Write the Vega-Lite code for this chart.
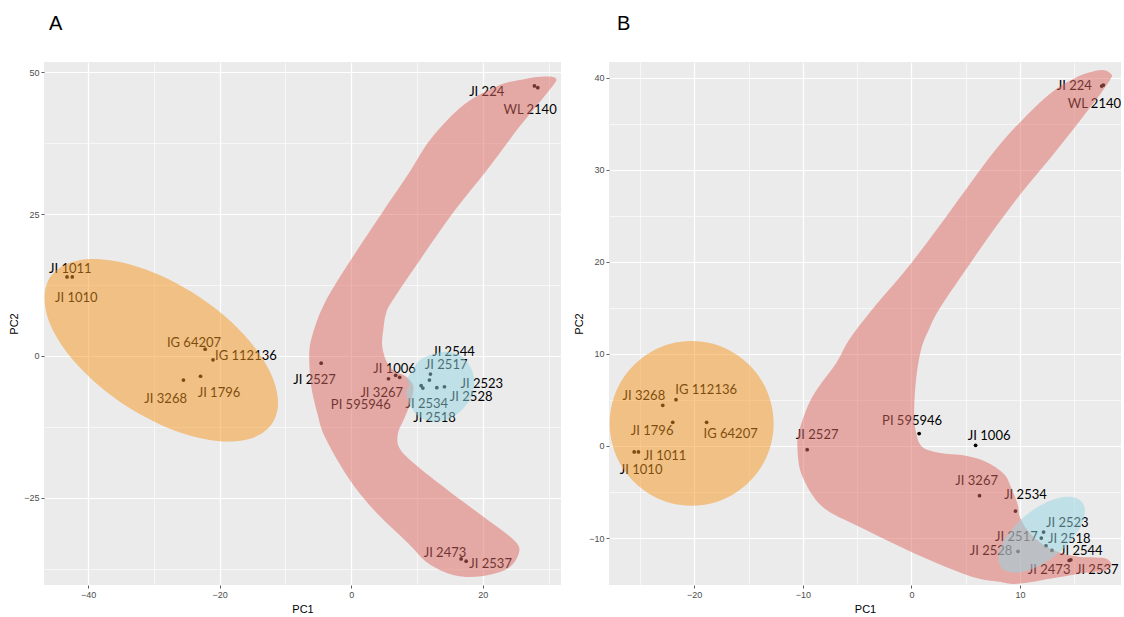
{
  "$schema": "https://vega.github.io/schema/vega-lite/v6.json",
  "padding": {"left": 8, "top": 14, "right": 0, "bottom": 0},
  "spacing": 12,
  "background": "white",
  "datasets": {
    "ptsA": [
      {"name": "JI 1011", "x": -43.2, "y": 13.9, "lx": -42.7, "ly": 15.3},
      {"name": "JI 1010", "x": -42.4, "y": 13.9, "lx": -41.8, "ly": 10.2},
      {"name": "IG 64207", "x": -22.2, "y": 1.18, "lx": -23.9, "ly": 2.3},
      {"name": "IG 112136", "x": -21.0, "y": -0.7, "lx": -16.0, "ly": 0.0},
      {"name": "JI 3268", "x": -25.5, "y": -4.27, "lx": -28.2, "ly": -7.6},
      {"name": "JI 1796", "x": -22.9, "y": -3.6, "lx": -20.1, "ly": -6.6},
      {"name": "JI 2527", "x": -4.56, "y": -1.29, "lx": -5.57, "ly": -4.2},
      {"name": "JI 3267", "x": 5.67, "y": -4.04, "lx": 4.64, "ly": -6.56},
      {"name": "JI 1006", "x": 6.76, "y": -3.43, "lx": 6.59, "ly": -2.34},
      {"name": "PI 595946", "x": 7.37, "y": -3.78, "lx": 1.47, "ly": -8.6},
      {"name": "JI 2544", "x": 12.05, "y": -3.22, "lx": 15.55, "ly": 0.76},
      {"name": "JI 2517", "x": 11.9, "y": -4.27, "lx": 14.44, "ly": -1.63},
      {"name": "JI 2523", "x": 14.18, "y": -5.45, "lx": 19.86, "ly": -4.97},
      {"name": "JI 2528", "x": 13.02, "y": -5.62, "lx": 18.24, "ly": -7.33},
      {"name": "JI 2534", "x": 10.64, "y": -5.27, "lx": 11.5, "ly": -8.49},
      {"name": "JI 2518", "x": 10.9, "y": -5.68, "lx": 12.66, "ly": -10.95},
      {"name": "JI 2473", "x": 16.72, "y": -35.8, "lx": 14.26, "ly": -34.74},
      {"name": "JI 2537", "x": 17.48, "y": -36.2, "lx": 21.2, "ly": -36.7},
      {"name": "JI 224", "x": 27.86, "y": 47.57, "lx": 20.6, "ly": 46.45},
      {"name": "WL 2140", "x": 28.37, "y": 47.28, "lx": 27.2, "ly": 43.3}
    ],
    "ptsB": [
      {"name": "JI 3268", "x": -22.9, "y": 4.41, "lx": -24.64, "ly": 5.39},
      {"name": "IG 112136", "x": -21.68, "y": 5.03, "lx": -18.9, "ly": 6.04},
      {"name": "JI 1796", "x": -21.98, "y": 2.57, "lx": -23.88, "ly": 1.59},
      {"name": "IG 64207", "x": -18.86, "y": 2.57, "lx": -16.65, "ly": 1.3},
      {"name": "JI 1011", "x": -25.14, "y": -0.65, "lx": -22.69, "ly": -1.05},
      {"name": "JI 1010", "x": -25.53, "y": -0.65, "lx": -24.89, "ly": -2.65},
      {"name": "JI 2527", "x": -9.6, "y": -0.4, "lx": -8.68, "ly": 1.23},
      {"name": "PI 595946", "x": 0.71, "y": 1.34, "lx": 0.06, "ly": 2.67},
      {"name": "JI 1006", "x": 5.91, "y": 0.07, "lx": 7.16, "ly": 1.12},
      {"name": "JI 3267", "x": 6.27, "y": -5.4, "lx": 6.01, "ly": -3.85},
      {"name": "JI 2534", "x": 9.58, "y": -7.07, "lx": 10.5, "ly": -5.37},
      {"name": "JI 2523", "x": 12.17, "y": -9.35, "lx": 14.35, "ly": -8.37},
      {"name": "JI 2517", "x": 11.96, "y": -10.0, "lx": 9.67, "ly": -9.89},
      {"name": "JI 2518", "x": 12.39, "y": -10.84, "lx": 14.54, "ly": -10.08},
      {"name": "JI 2544", "x": 12.94, "y": -11.35, "lx": 15.64, "ly": -11.38},
      {"name": "JI 2528", "x": 9.82, "y": -11.45, "lx": 7.33, "ly": -11.45},
      {"name": "JI 2473", "x": 14.53, "y": -12.43, "lx": 12.68, "ly": -13.45},
      {"name": "JI 2537", "x": 14.68, "y": -12.36, "lx": 17.11, "ly": -13.45},
      {"name": "JI 224", "x": 17.52, "y": 39.09, "lx": 15.0, "ly": 39.09},
      {"name": "WL 2140", "x": 17.68, "y": 39.2, "lx": 16.85, "ly": 37.1}
    ],
    "hullA": [
      {"g": "o", "i": 0, "x": -11.12, "y": -8.26},
      {"g": "o", "i": 1, "x": -11.73, "y": -11.36},
      {"g": "o", "i": 2, "x": -13.5, "y": -13.6},
      {"g": "o", "i": 3, "x": -16.33, "y": -14.87},
      {"g": "o", "i": 4, "x": -20.01, "y": -15.05},
      {"g": "o", "i": 5, "x": -24.3, "y": -14.13},
      {"g": "o", "i": 6, "x": -28.9, "y": -12.19},
      {"g": "o", "i": 7, "x": -33.5, "y": -9.35},
      {"g": "o", "i": 8, "x": -37.79, "y": -5.81},
      {"g": "o", "i": 9, "x": -41.47, "y": -1.81},
      {"g": "o", "i": 10, "x": -44.3, "y": 2.38},
      {"g": "o", "i": 11, "x": -46.07, "y": 6.48},
      {"g": "o", "i": 12, "x": -46.6, "y": 10.2},
      {"g": "o", "i": 13, "x": -46.07, "y": 13.3},
      {"g": "o", "i": 14, "x": -44.3, "y": 15.54},
      {"g": "o", "i": 15, "x": -41.47, "y": 16.81},
      {"g": "o", "i": 16, "x": -37.79, "y": 16.99},
      {"g": "o", "i": 17, "x": -33.5, "y": 16.07},
      {"g": "o", "i": 18, "x": -28.9, "y": 14.13},
      {"g": "o", "i": 19, "x": -24.3, "y": 11.29},
      {"g": "o", "i": 20, "x": -20.01, "y": 7.75},
      {"g": "o", "i": 21, "x": -16.33, "y": 3.75},
      {"g": "o", "i": 22, "x": -13.5, "y": -0.44},
      {"g": "o", "i": 23, "x": -11.73, "y": -4.54},
      {"g": "r", "i": 0, "x": 31.16, "y": 48.86},
      {"g": "r", "i": 1, "x": 28.88, "y": 49.21},
      {"g": "r", "i": 2, "x": 25.84, "y": 48.68},
      {"g": "r", "i": 3, "x": 22.34, "y": 47.63},
      {"g": "r", "i": 4, "x": 17.17, "y": 44.29},
      {"g": "r", "i": 5, "x": 12.16, "y": 38.31},
      {"g": "r", "i": 6, "x": 8.66, "y": 31.99},
      {"g": "r", "i": 7, "x": 4.56, "y": 24.96},
      {"g": "r", "i": 8, "x": -0.46, "y": 16.17},
      {"g": "r", "i": 9, "x": -4.1, "y": 9.14},
      {"g": "r", "i": 10, "x": -5.93, "y": 3.51},
      {"g": "r", "i": 11, "x": -6.38, "y": 0.0},
      {"g": "r", "i": 12, "x": -6.08, "y": -5.27},
      {"g": "r", "i": 13, "x": -5.17, "y": -10.02},
      {"g": "r", "i": 14, "x": -3.95, "y": -14.41},
      {"g": "r", "i": 15, "x": -0.46, "y": -21.44},
      {"g": "r", "i": 16, "x": 3.5, "y": -27.24},
      {"g": "r", "i": 17, "x": 8.66, "y": -33.04},
      {"g": "r", "i": 18, "x": 11.7, "y": -36.56},
      {"g": "r", "i": 19, "x": 15.65, "y": -38.66},
      {"g": "r", "i": 20, "x": 19.76, "y": -38.84},
      {"g": "r", "i": 21, "x": 23.86, "y": -37.43},
      {"g": "r", "i": 22, "x": 25.53, "y": -34.62},
      {"g": "r", "i": 23, "x": 24.77, "y": -32.51},
      {"g": "r", "i": 24, "x": 20.82, "y": -29.0},
      {"g": "r", "i": 25, "x": 14.74, "y": -23.73},
      {"g": "r", "i": 26, "x": 9.57, "y": -18.98},
      {"g": "r", "i": 27, "x": 7.29, "y": -16.17},
      {"g": "r", "i": 28, "x": 7.14, "y": -13.53},
      {"g": "r", "i": 29, "x": 8.05, "y": -11.07},
      {"g": "r", "i": 30, "x": 9.12, "y": -7.91},
      {"g": "r", "i": 31, "x": 9.42, "y": -5.27},
      {"g": "r", "i": 32, "x": 8.36, "y": -3.69},
      {"g": "r", "i": 33, "x": 6.53, "y": -2.64},
      {"g": "r", "i": 34, "x": 5.32, "y": -0.88},
      {"g": "r", "i": 35, "x": 4.71, "y": 1.76},
      {"g": "r", "i": 36, "x": 4.86, "y": 4.39},
      {"g": "r", "i": 37, "x": 5.32, "y": 7.56},
      {"g": "r", "i": 38, "x": 6.53, "y": 10.19},
      {"g": "r", "i": 39, "x": 10.64, "y": 17.22},
      {"g": "r", "i": 40, "x": 15.65, "y": 25.48},
      {"g": "r", "i": 41, "x": 20.82, "y": 33.04},
      {"g": "r", "i": 42, "x": 25.84, "y": 40.77},
      {"g": "r", "i": 43, "x": 29.94, "y": 46.57},
      {"g": "b", "i": 0, "x": 9.12, "y": -2.99},
      {"g": "b", "i": 1, "x": 10.33, "y": -0.88},
      {"g": "b", "i": 2, "x": 12.16, "y": 0.18},
      {"g": "b", "i": 3, "x": 14.44, "y": 0.7},
      {"g": "b", "i": 4, "x": 16.41, "y": 0.18},
      {"g": "b", "i": 5, "x": 17.93, "y": -1.58},
      {"g": "b", "i": 6, "x": 18.69, "y": -4.04},
      {"g": "b", "i": 7, "x": 18.39, "y": -6.85},
      {"g": "b", "i": 8, "x": 17.02, "y": -9.31},
      {"g": "b", "i": 9, "x": 14.89, "y": -11.07},
      {"g": "b", "i": 10, "x": 12.46, "y": -11.6},
      {"g": "b", "i": 11, "x": 10.33, "y": -10.72},
      {"g": "b", "i": 12, "x": 8.97, "y": -8.79},
      {"g": "b", "i": 13, "x": 8.36, "y": -6.5},
      {"g": "b", "i": 14, "x": 8.81, "y": -5.27},
      {"g": "b", "i": 15, "x": 8.51, "y": -4.04}
    ],
    "hullB": [
      {"g": "o", "i": 0, "x": -12.69, "y": 2.45},
      {"g": "o", "i": 1, "x": -12.95, "y": 4.76},
      {"g": "o", "i": 2, "x": -13.7, "y": 6.92},
      {"g": "o", "i": 3, "x": -14.9, "y": 8.77},
      {"g": "o", "i": 4, "x": -16.47, "y": 10.19},
      {"g": "o", "i": 5, "x": -18.29, "y": 11.09},
      {"g": "o", "i": 6, "x": -20.24, "y": 11.39},
      {"g": "o", "i": 7, "x": -22.19, "y": 11.09},
      {"g": "o", "i": 8, "x": -24.02, "y": 10.19},
      {"g": "o", "i": 9, "x": -25.58, "y": 8.77},
      {"g": "o", "i": 10, "x": -26.78, "y": 6.92},
      {"g": "o", "i": 11, "x": -27.53, "y": 4.76},
      {"g": "o", "i": 12, "x": -27.79, "y": 2.45},
      {"g": "o", "i": 13, "x": -27.53, "y": 0.14},
      {"g": "o", "i": 14, "x": -26.78, "y": -2.02},
      {"g": "o", "i": 15, "x": -25.58, "y": -3.87},
      {"g": "o", "i": 16, "x": -24.02, "y": -5.29},
      {"g": "o", "i": 17, "x": -22.19, "y": -6.19},
      {"g": "o", "i": 18, "x": -20.24, "y": -6.49},
      {"g": "o", "i": 19, "x": -18.29, "y": -6.19},
      {"g": "o", "i": 20, "x": -16.47, "y": -5.29},
      {"g": "o", "i": 21, "x": -14.9, "y": -3.87},
      {"g": "o", "i": 22, "x": -13.7, "y": -2.02},
      {"g": "o", "i": 23, "x": -12.95, "y": 0.14},
      {"g": "r", "i": 0, "x": 18.41, "y": 40.36},
      {"g": "r", "i": 1, "x": 17.5, "y": 40.83},
      {"g": "r", "i": 2, "x": 15.39, "y": 40.14},
      {"g": "r", "i": 3, "x": 12.91, "y": 38.4},
      {"g": "r", "i": 4, "x": 10.52, "y": 35.79},
      {"g": "r", "i": 5, "x": 7.77, "y": 32.21},
      {"g": "r", "i": 6, "x": 5.02, "y": 27.86},
      {"g": "r", "i": 7, "x": 2.54, "y": 23.84},
      {"g": "r", "i": 8, "x": -0.49, "y": 19.16},
      {"g": "r", "i": 9, "x": -3.61, "y": 14.82},
      {"g": "r", "i": 10, "x": -5.72, "y": 11.55},
      {"g": "r", "i": 11, "x": -6.91, "y": 9.05},
      {"g": "r", "i": 12, "x": -9.11, "y": 5.36},
      {"g": "r", "i": 13, "x": -10.3, "y": 1.77},
      {"g": "r", "i": 14, "x": -10.49, "y": -0.4},
      {"g": "r", "i": 15, "x": -10.03, "y": -3.34},
      {"g": "r", "i": 16, "x": -8.19, "y": -6.6},
      {"g": "r", "i": 17, "x": -4.8, "y": -8.77},
      {"g": "r", "i": 18, "x": 0.98, "y": -12.03},
      {"g": "r", "i": 19, "x": 5.57, "y": -14.21},
      {"g": "r", "i": 20, "x": 8.04, "y": -14.75},
      {"g": "r", "i": 21, "x": 9.88, "y": -14.97},
      {"g": "r", "i": 22, "x": 13.27, "y": -14.32},
      {"g": "r", "i": 23, "x": 16.03, "y": -13.77},
      {"g": "r", "i": 24, "x": 17.86, "y": -13.55},
      {"g": "r", "i": 25, "x": 18.41, "y": -12.9},
      {"g": "r", "i": 26, "x": 17.95, "y": -12.25},
      {"g": "r", "i": 27, "x": 16.95, "y": -12.11},
      {"g": "r", "i": 28, "x": 15.39, "y": -12.03},
      {"g": "r", "i": 29, "x": 13.73, "y": -11.6},
      {"g": "r", "i": 30, "x": 12.17, "y": -10.73},
      {"g": "r", "i": 31, "x": 10.8, "y": -9.32},
      {"g": "r", "i": 32, "x": 9.97, "y": -7.68},
      {"g": "r", "i": 33, "x": 9.79, "y": -6.38},
      {"g": "r", "i": 34, "x": 9.15, "y": -4.42},
      {"g": "r", "i": 35, "x": 8.5, "y": -3.01},
      {"g": "r", "i": 36, "x": 6.85, "y": -1.71},
      {"g": "r", "i": 37, "x": 5.02, "y": -1.05},
      {"g": "r", "i": 38, "x": 2.54, "y": -0.73},
      {"g": "r", "i": 39, "x": 0.98, "y": -0.08},
      {"g": "r", "i": 40, "x": 0.43, "y": 1.45},
      {"g": "r", "i": 41, "x": 0.25, "y": 3.62},
      {"g": "r", "i": 42, "x": 0.43, "y": 7.21},
      {"g": "r", "i": 43, "x": 0.89, "y": 10.47},
      {"g": "r", "i": 44, "x": 1.61, "y": 12.64},
      {"g": "r", "i": 45, "x": 2.54, "y": 14.82},
      {"g": "r", "i": 46, "x": 5.02, "y": 19.16},
      {"g": "r", "i": 47, "x": 7.4, "y": 23.18},
      {"g": "r", "i": 48, "x": 10.16, "y": 27.53},
      {"g": "r", "i": 49, "x": 12.91, "y": 31.45},
      {"g": "r", "i": 50, "x": 15.39, "y": 35.14},
      {"g": "r", "i": 51, "x": 17.5, "y": 38.4},
      {"g": "r", "i": 52, "x": 18.32, "y": 39.82},
      {"g": "b", "i": 0, "x": 15.7, "y": -6.09},
      {"g": "b", "i": 1, "x": 15.95, "y": -6.76},
      {"g": "b", "i": 2, "x": 15.92, "y": -7.62},
      {"g": "b", "i": 3, "x": 15.63, "y": -8.62},
      {"g": "b", "i": 4, "x": 15.09, "y": -9.69},
      {"g": "b", "i": 5, "x": 14.34, "y": -10.76},
      {"g": "b", "i": 6, "x": 13.43, "y": -11.75},
      {"g": "b", "i": 7, "x": 12.42, "y": -12.6},
      {"g": "b", "i": 8, "x": 11.38, "y": -13.24},
      {"g": "b", "i": 9, "x": 10.39, "y": -13.64},
      {"g": "b", "i": 10, "x": 9.5, "y": -13.77},
      {"g": "b", "i": 11, "x": 8.78, "y": -13.62},
      {"g": "b", "i": 12, "x": 8.28, "y": -13.19},
      {"g": "b", "i": 13, "x": 8.03, "y": -12.52},
      {"g": "b", "i": 14, "x": 8.06, "y": -11.66},
      {"g": "b", "i": 15, "x": 8.35, "y": -10.66},
      {"g": "b", "i": 16, "x": 8.89, "y": -9.59},
      {"g": "b", "i": 17, "x": 9.64, "y": -8.52},
      {"g": "b", "i": 18, "x": 10.55, "y": -7.53},
      {"g": "b", "i": 19, "x": 11.56, "y": -6.68},
      {"g": "b", "i": 20, "x": 12.6, "y": -6.04},
      {"g": "b", "i": 21, "x": 13.6, "y": -5.64},
      {"g": "b", "i": 22, "x": 14.48, "y": -5.51},
      {"g": "b", "i": 23, "x": 15.2, "y": -5.67}
    ]
  },
  "hconcat": [
    {
      "width": 517,
      "height": 523,
      "title": {"text": "A", "anchor": "start", "frame": "group", "fontSize": 20, "fontWeight": "normal", "font": "Liberation Sans", "color": "black", "offset": 28, "dx": 5},
      "encoding": {
        "x": {"field": "x", "type": "quantitative", "title": "PC1",
          "scale": {"domain": [-46.7, 31.9], "nice": false, "zero": false},
          "axis": {"values": [-40, -30, -20, -10, 0, 10, 20, 30],
            "labelExpr": "datum.value % 20 === 0 ? datum.label : ''",
            "tickOpacity": {"condition": {"test": "datum.value % 20 !== 0", "value": 0}, "value": 1},
            "gridWidth": {"condition": {"test": "datum.value % 20 !== 0", "value": 0.6}, "value": 1.2}}},
        "y": {"field": "y", "type": "quantitative", "title": "PC2",
          "scale": {"domain": [-40.4, 51.8], "nice": false, "zero": false},
          "axis": {"values": [-37.5, -25, -12.5, 0, 12.5, 25, 37.5, 50],
            "labelExpr": "datum.value % 25 === 0 ? datum.label : ''",
            "tickOpacity": {"condition": {"test": "datum.value % 25 !== 0", "value": 0}, "value": 1},
            "gridWidth": {"condition": {"test": "datum.value % 25 !== 0", "value": 0.6}, "value": 1.2}}}
      },
      "layer": [
        {"data": {"name": "ptsA"}, "mark": {"type": "circle", "size": 14, "color": "black", "opacity": 1}},
        {"data": {"name": "ptsA"}, "mark": {"type": "text", "font": "Lato", "fontSize": 13, "color": "black", "align": "center", "baseline": "middle", "clip": true},
          "encoding": {"x": {"field": "lx", "type": "quantitative"}, "y": {"field": "ly", "type": "quantitative"}, "text": {"field": "name"}}},
        {"data": {"name": "hullA"}, "transform": [{"filter": "datum.g === 'o'"}],
          "mark": {"type": "line", "interpolate": "cardinal-closed", "fill": "#F5961E", "fillOpacity": 0.5, "strokeOpacity": 0, "clip": true},
          "encoding": {"order": {"field": "i", "type": "quantitative"}}},
        {"data": {"name": "hullA"}, "transform": [{"filter": "datum.g === 'r'"}],
          "mark": {"type": "line", "interpolate": "cardinal-closed", "fill": "#DE675F", "fillOpacity": 0.5, "strokeOpacity": 0, "clip": true},
          "encoding": {"order": {"field": "i", "type": "quantitative"}}},
        {"data": {"name": "hullA"}, "transform": [{"filter": "datum.g === 'b'"}],
          "mark": {"type": "line", "interpolate": "cardinal-closed", "fill": "#93D5E1", "fillOpacity": 0.5, "strokeOpacity": 0, "clip": true},
          "encoding": {"order": {"field": "i", "type": "quantitative"}}}
      ]
    },
    {
      "width": 512,
      "height": 523,
      "title": {"text": "B", "anchor": "start", "frame": "group", "fontSize": 20, "fontWeight": "normal", "font": "Liberation Sans", "color": "black", "offset": 28, "dx": 8},
      "encoding": {
        "x": {"field": "x", "type": "quantitative", "title": "PC1",
          "scale": {"domain": [-27.85, 19.3], "nice": false, "zero": false},
          "axis": {"values": [-25, -20, -15, -10, -5, 0, 5, 10, 15],
            "labelExpr": "datum.value % 10 === 0 ? datum.label : ''",
            "tickOpacity": {"condition": {"test": "datum.value % 10 !== 0", "value": 0}, "value": 1},
            "gridWidth": {"condition": {"test": "datum.value % 10 !== 0", "value": 0.6}, "value": 1.2}}},
        "y": {"field": "y", "type": "quantitative", "title": "PC2",
          "scale": {"domain": [-15.1, 41.7], "nice": false, "zero": false},
          "axis": {"values": [-10, -5, 0, 5, 10, 15, 20, 25, 30, 35, 40],
            "labelExpr": "datum.value % 10 === 0 ? datum.label : ''",
            "tickOpacity": {"condition": {"test": "datum.value % 10 !== 0", "value": 0}, "value": 1},
            "gridWidth": {"condition": {"test": "datum.value % 10 !== 0", "value": 0.6}, "value": 1.2}}}
      },
      "layer": [
        {"data": {"name": "ptsB"}, "mark": {"type": "circle", "size": 14, "color": "black", "opacity": 1}},
        {"data": {"name": "ptsB"}, "mark": {"type": "text", "font": "Lato", "fontSize": 13, "color": "black", "align": "center", "baseline": "middle", "clip": true},
          "encoding": {"x": {"field": "lx", "type": "quantitative"}, "y": {"field": "ly", "type": "quantitative"}, "text": {"field": "name"}}},
        {"data": {"name": "hullB"}, "transform": [{"filter": "datum.g === 'o'"}],
          "mark": {"type": "line", "interpolate": "cardinal-closed", "fill": "#F5961E", "fillOpacity": 0.5, "strokeOpacity": 0, "clip": true},
          "encoding": {"order": {"field": "i", "type": "quantitative"}}},
        {"data": {"name": "hullB"}, "transform": [{"filter": "datum.g === 'r'"}],
          "mark": {"type": "line", "interpolate": "cardinal-closed", "fill": "#DE675F", "fillOpacity": 0.5, "strokeOpacity": 0, "clip": true},
          "encoding": {"order": {"field": "i", "type": "quantitative"}}},
        {"data": {"name": "hullB"}, "transform": [{"filter": "datum.g === 'b'"}],
          "mark": {"type": "line", "interpolate": "cardinal-closed", "fill": "#93D5E1", "fillOpacity": 0.5, "strokeOpacity": 0, "clip": true},
          "encoding": {"order": {"field": "i", "type": "quantitative"}}}
      ]
    }
  ],
  "config": {
    "view": {"fill": "#EBEBEB", "stroke": null},
    "axis": {
      "domain": false,
      "gridColor": "white",
      "tickColor": "#333333",
      "tickSize": 3,
      "tickWidth": 0.8,
      "labelColor": "#4D4D4D",
      "labelFont": "Liberation Sans",
      "labelFontSize": 9,
      "labelPadding": 2,
      "titleFont": "Liberation Sans",
      "titleFontSize": 11,
      "titleFontWeight": "normal",
      "titleColor": "black",
      "titlePadding": 4
    }
  }
}
